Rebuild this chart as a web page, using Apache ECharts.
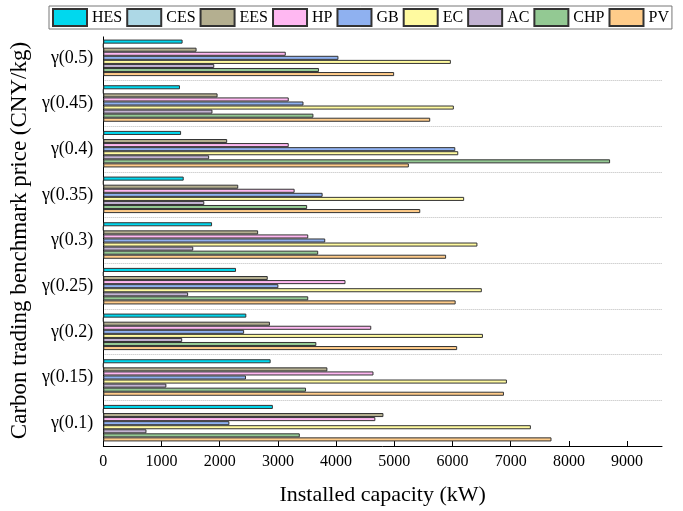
<!DOCTYPE html>
<html>
<head>
<meta charset="utf-8">
<script src="https://cdn.jsdelivr.net/npm/echarts@6/dist/echarts.min.js"></script>
<style>html,body{margin:0;padding:0;background:#fff}#c{width:683px;height:511px}</style>
</head>
<body>
<div id="c"></div>
<script>
const categories = ['γ(0.1)', 'γ(0.15)', 'γ(0.2)', 'γ(0.25)', 'γ(0.3)', 'γ(0.35)', 'γ(0.4)', 'γ(0.45)', 'γ(0.5)'];
const seriesNames = ['HES', 'CES', 'EES', 'HP', 'GB', 'EC', 'AC', 'CHP', 'PV'];
const HES = [2913, 2875, 2457, 2280, 1868, 1381, 1336, 1317, 1362];
const CES = [0, 0, 0, 0, 0, 0, 0, 0, 0];
const EES = [4813, 3850, 2863, 2825, 2660, 2318, 2128, 1963, 1602];
const HP = [4674, 4642, 4604, 4161, 3521, 3287, 3186, 3186, 3135];
const GB = [2166, 2451, 2419, 3008, 3813, 3768, 6048, 3439, 4040];
const EC = [7347, 6935, 6523, 6504, 6428, 6200, 6099, 6023, 5972];
const AC = [741, 1083, 1355, 1457, 1545, 1735, 1818, 1875, 1906];
const CHP = [3376, 3483, 3660, 3521, 3692, 3502, 8708, 3610, 3705];
const PV = [7701, 6884, 6080, 6054, 5890, 5446, 5250, 5617, 4997];
const xTicks = [0, 1000, 2000, 3000, 4000, 5000, 6000, 7000, 8000, 9000];

const values = {HES, CES, EES, HP, GB, EC, AC, CHP, PV};
const colors = {HES:'#00D8EE', CES:'#ADD8E6', EES:'#B4AF90', HP:'#FFB8F2', GB:'#8FB1F0', EC:'#FFFAA0', AC:'#C3B3D3', CHP:'#93C993', PV:'#FFCC8A'};
const font = "'Liberation Serif', 'Times New Roman', serif";

const chart = echarts.init(document.getElementById('c'), null, {renderer: 'canvas'});
const series = seriesNames.map(n => ({
  name: n,
  type: 'bar',
  data: values[n],
  barGap: '0%',
  barCategoryGap: '20%',
  itemStyle: {color: colors[n], borderColor: '#333', borderWidth: 1},
  emphasis: {disabled: true}
}));
chart.setOption({
  animation: false,
  textStyle: {fontFamily: font},
  legend: {
    data: seriesNames,
    left: 49, top: 6,
    itemWidth: 34, itemHeight: 17, itemGap: 4,
    padding: [2, 3],
    borderColor: '#777', borderWidth: 1,
    icon: 'rect',
    textStyle: {fontFamily: font, fontSize: 16, color: '#000'}
  },
  grid: {left: 101, right: 21, top: 35, bottom: 61, containLabel: false},
  xAxis: {
    type: 'value', min: 0, max: 9600, interval: 1000,
    name: 'Installed capacity (kW)', nameLocation: 'middle', nameGap: 38,
    nameTextStyle: {fontFamily: font, fontSize: 22, color: '#000'},
    axisLine: {show: true, lineStyle: {color: '#000', width: 1}},
    axisTick: {show: true, inside: true, length: 5, lineStyle: {color: '#000'}, customValues: xTicks},
    axisLabel: {fontFamily: font, fontSize: 16, color: '#000', margin: 8, customValues: xTicks, formatter: v => String(v)},
    splitLine: {show: false}
  },
  yAxis: {
    type: 'category', data: categories,
    name: 'Carbon trading benchmark price (CNY/kg)', nameLocation: 'middle', nameGap: 55,
    nameTextStyle: {fontFamily: font, fontSize: 23, color: '#000'},
    axisLine: {show: true, lineStyle: {color: '#000', width: 1}},
    axisTick: {show: true, inside: true, alignWithLabel: true, length: 6, lineStyle: {color: '#000'}},
    axisLabel: {fontFamily: font, fontSize: 18, color: '#000', margin: 10},
    splitLine: {show: true, lineStyle: {type: 'dotted', color: '#bbb', width: 1}}
  },
  graphic: [{
    type: 'rect', z: 100, silent: true,
    shape: {x: 102, y: 33.5, width: 562, height: 3},
    style: {fill: '#fff'}
  }],
  series: series
});
</script>
</body>
</html>
